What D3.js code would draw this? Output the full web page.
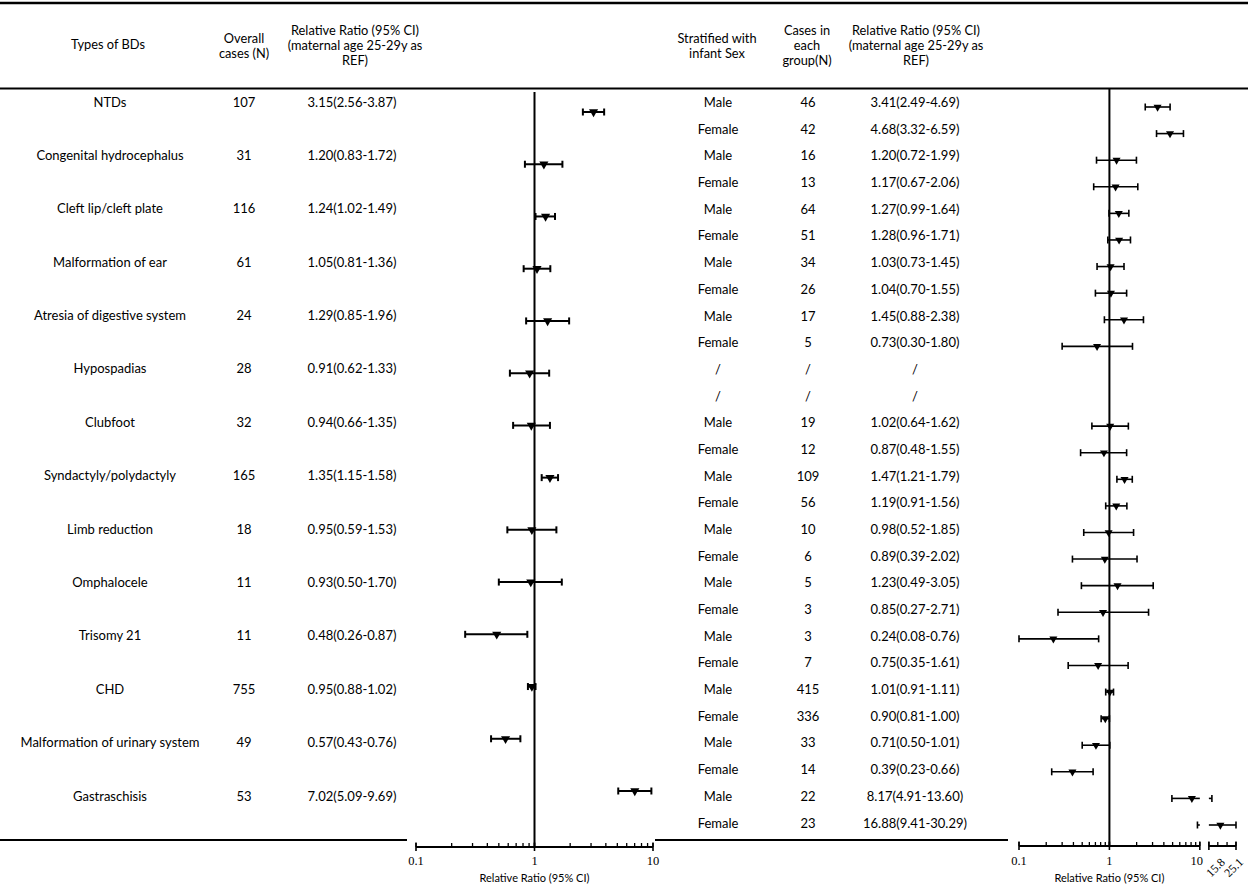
<!DOCTYPE html>
<html>
<head>
<meta charset="utf-8">
<script src="https://cdn.jsdelivr.net/npm/d3@7"></script>
<style>
  body { margin: 0; background: #fff; }
  text { font-family: Lato, "Open Sans", sans-serif; fill: #000; }
</style>
</head>
<body>
<svg id="chart" width="1248" height="892"></svg>
<script>
// overall birth defect types
const bdTypes = [
  "NTDs", "Congenital hydrocephalus", "Cleft lip/cleft plate", "Malformation of ear",
  "Atresia of digestive system", "Hypospadias", "Clubfoot", "Syndactyly/polydactyly",
  "Limb reduction", "Omphalocele", "Trisomy 21", "CHD",
  "Malformation of urinary system", "Gastraschisis"
];
const overallCases = [107, 31, 116, 61, 24, 28, 32, 165, 18, 11, 11, 755, 49, 53];
const overallRR = [3.15, 1.20, 1.24, 1.05, 1.29, 0.91, 0.94, 1.35, 0.95, 0.93, 0.48, 0.95, 0.57, 7.02];
const overallLo = [2.56, 0.83, 1.02, 0.81, 0.85, 0.62, 0.66, 1.15, 0.59, 0.50, 0.26, 0.88, 0.43, 5.09];
const overallHi = [3.87, 1.72, 1.49, 1.36, 1.96, 1.33, 1.35, 1.58, 1.53, 1.70, 0.87, 1.02, 0.76, 9.69];

// stratified with infant sex (null = not applicable)
const sexLabels = [
  "Male", "Female", "Male", "Female", "Male", "Female", "Male", "Female", "Male", "Female",
  "/", "/", "Male", "Female", "Male", "Female", "Male", "Female", "Male", "Female",
  "Male", "Female", "Male", "Female", "Male", "Female", "Male", "Female"
];
const sexCases = [46, 42, 16, 13, 64, 51, 34, 26, 17, 5, null, null, 19, 12, 109, 56, 10, 6, 5, 3, 3, 7, 415, 336, 33, 14, 22, 23];
const sexRR = [3.41, 4.68, 1.20, 1.17, 1.27, 1.28, 1.03, 1.04, 1.45, 0.73, null, null, 1.02, 0.87, 1.47, 1.19, 0.98, 0.89, 1.23, 0.85, 0.24, 0.75, 1.01, 0.90, 0.71, 0.39, 8.17, 16.88];
const sexLo = [2.49, 3.32, 0.72, 0.67, 0.99, 0.96, 0.73, 0.70, 0.88, 0.30, null, null, 0.64, 0.48, 1.21, 0.91, 0.52, 0.39, 0.49, 0.27, 0.08, 0.35, 0.91, 0.81, 0.50, 0.23, 4.91, 9.41];
const sexHi = [4.69, 6.59, 1.99, 2.06, 1.64, 1.71, 1.45, 1.55, 2.38, 1.80, null, null, 1.62, 1.55, 1.79, 1.56, 1.85, 2.02, 3.05, 2.71, 0.76, 1.61, 1.11, 1.00, 1.01, 0.66, 13.60, 30.29];

// axis labels
const leftTickLabels = [0.1, 1, 10];
const rightTickLabels = [0.1, 1, 10];
const rightBreakTicks = ["12.6", "15.8", "20.0", "25.1"];
const rightBreakLabels = ["15.8", "25.1"];
const axisTitle = "Relative Ratio (95% CI)";

const svg = d3.select("#chart");
const fmt = d3.format(".2f");
const rrText = (r, l, h) => (r == null ? "/" : `${fmt(r)}(${fmt(l)}-${fmt(h)})`);

// scales
const leftX = d3.scaleLog().domain([0.1, 10]).range([416, 653]);
const rightX = d3.scaleLog().domain([0.1, 25.12]).range([1019, 1236]);
const breakLo = 10, breakHi = 12.59;
const leftTextY = d3.scaleLinear().domain([0, bdTypes.length - 1]).range([102, 796]);
const leftMarkY = d3.scaleLinear().domain([0, bdTypes.length - 1]).range([112, 791]);
const rightTextY = d3.scaleLinear().domain([0, sexLabels.length - 1]).range([102.5, 823]);
const rightMarkY = d3.scaleLinear().domain([0, sexLabels.length - 1]).range([107, 825]);

// rules
const hline = (x1, x2, y, w) =>
  svg.append("line").attr("x1", x1).attr("x2", x2).attr("y1", y).attr("y2", y)
    .attr("stroke", "#000").attr("stroke-width", w);
hline(0, 1248, 3, 2.5);
hline(0, 1248, 88.5, 2);
hline(0, 407, 840, 1.8);
hline(655, 1008, 840, 1.8);

// header (y0 = centre of first line)
const header = (x, lines, y0) => {
  const t = svg.append("text").attr("x", x).attr("y", y0)
    .attr("text-anchor", "middle").style("font-size", "12.8px");
  lines.forEach((s, i) => t.append("tspan").attr("x", x).attr("y", y0 + i * 14.6)
    .attr("dy", "0.35em").text(s));
};
header(108, ["Types of BDs"], 45);
header(244, ["Overall", "cases (N)"], 38.5);
header(355, ["Relative Ratio (95% CI)", "(maternal age 25-29y as", "REF)"], 31);
header(717, ["Stratified with", "infant Sex"], 38.5);
header(807, ["Cases in", "each", "group(N)"], 31);
header(916, ["Relative Ratio (95% CI)", "(maternal age 25-29y as", "REF)"], 31);

// table body
const cell = (x, y, s) =>
  svg.append("text").attr("x", x).attr("y", y).attr("dy", "0.35em")
    .attr("text-anchor", "middle").style("font-size", "13px").text(s);

bdTypes.forEach((d, i) => {
  cell(110, leftTextY(i), d);
  cell(244, leftTextY(i), overallCases[i]);
  cell(352, leftTextY(i), rrText(overallRR[i], overallLo[i], overallHi[i]));
});
sexLabels.forEach((d, j) => {
  cell(718, rightTextY(j), d);
  cell(808, rightTextY(j), sexCases[j] == null ? "/" : sexCases[j]);
  cell(915, rightTextY(j), rrText(sexRR[j], sexLo[j], sexHi[j]));
});

// forest plots
const marker = (g, x, y, size) =>
  g.append("path").attr("d", d3.symbol(d3.symbolTriangle, size)())
    .attr("transform", `translate(${x},${y}) rotate(180)`).attr("fill", "#000");

const drawCI = (g, x, y, lo, hi, capLeft, capRight, w) => {
  g.append("line").attr("x1", x(lo)).attr("x2", x(hi)).attr("y1", y).attr("y2", y)
    .attr("stroke", "#000").attr("stroke-width", w);
  if (capLeft) g.append("line").attr("x1", x(lo)).attr("x2", x(lo)).attr("y1", y - 3.5).attr("y2", y + 3.5)
    .attr("stroke", "#000").attr("stroke-width", w);
  if (capRight) g.append("line").attr("x1", x(hi)).attr("x2", x(hi)).attr("y1", y - 3.5).attr("y2", y + 3.5)
    .attr("stroke", "#000").attr("stroke-width", w);
};

// left plot
const gl = svg.append("g");
gl.append("line").attr("x1", leftX(1)).attr("x2", leftX(1)).attr("y1", 92).attr("y2", 848)
  .attr("stroke", "#000").attr("stroke-width", 2);
bdTypes.forEach((d, i) => {
  const y = leftMarkY(i);
  drawCI(gl, leftX, y, overallLo[i], overallHi[i], true, true, 2);
  marker(gl, leftX(overallRR[i]), y, 36);
});

// right plot
const gr = svg.append("g");
gr.append("line").attr("x1", rightX(1)).attr("x2", rightX(1)).attr("y1", 89).attr("y2", 846)
  .attr("stroke", "#000").attr("stroke-width", 2);
const [dMin, dMax] = rightX.domain();
sexLabels.forEach((d, j) => {
  if (sexRR[j] == null) return;
  const y = rightMarkY(j);
  const lo = Math.max(sexLo[j], dMin), hi = Math.min(sexHi[j], dMax);
  if (hi <= breakLo || lo >= breakHi) {
    drawCI(gr, rightX, y, lo, hi, true, true, 1.6);
  } else {
    if (lo < breakLo) drawCI(gr, rightX, y, lo, breakLo, true, false, 1.6);
    drawCI(gr, rightX, y, Math.max(lo, breakHi), hi, lo >= breakLo, true, 1.6);
  }
  marker(gr, rightX(sexRR[j]), y, 28);
});

// axes
const drawAxis = (x, y, from, to, minor, majors, w) => {
  const g = svg.append("g");
  g.append("line").attr("x1", x(from)).attr("x2", x(to)).attr("y1", y).attr("y2", y)
    .attr("stroke", "#000").attr("stroke-width", w);
  g.selectAll(".minor").data(minor).join("line")
    .attr("x1", d => x(d)).attr("x2", d => x(d)).attr("y1", y - 4).attr("y2", y)
    .attr("stroke", "#000").attr("stroke-width", 1.3);
  g.selectAll(".major").data(majors).join("line")
    .attr("x1", d => x(d)).attr("x2", d => x(d)).attr("y1", y - 4.5).attr("y2", y + 4)
    .attr("stroke", "#000").attr("stroke-width", 1.6);
  return g;
};
const tickLabel = (x, y, s) =>
  svg.append("text").attr("x", x).attr("y", y).attr("text-anchor", "middle")
    .style("font-family", "'Liberation Serif', serif").style("font-size", "12.5px").text(s);

// left axis
drawAxis(leftX, 847, 0.1, 10, leftX.ticks(), leftTickLabels, 2);
leftTickLabels.forEach(v => tickLabel(leftX(v), 865, v));
svg.append("text").attr("x", leftX(1)).attr("y", 882).attr("text-anchor", "middle")
  .style("font-size", "11px").text(axisTitle);

// right axis with break between 10 and 12.6
drawAxis(rightX, 846, 0.1, breakLo, rightX.ticks().filter(v => v <= breakLo), rightTickLabels, 2);
drawAxis(rightX, 846, breakHi, dMax, rightBreakTicks.map(Number), [breakHi, dMax], 2);
rightTickLabels.forEach(v => tickLabel(rightX(v) - (v === 10 ? 3 : 0), 865, v));
rightBreakLabels.forEach(s => {
  const x = rightX(+s) + 2, y = 857;
  svg.append("text").attr("transform", `translate(${x},${y}) rotate(-45)`)
    .attr("text-anchor", "end").attr("dy", "0.7em")
    .style("font-family", "'Liberation Serif', serif").style("font-size", "12px").text(s);
});
svg.append("text").attr("x", rightX(1)).attr("y", 882).attr("text-anchor", "middle")
  .style("font-size", "11px").text(axisTitle);
</script>
</body>
</html>
